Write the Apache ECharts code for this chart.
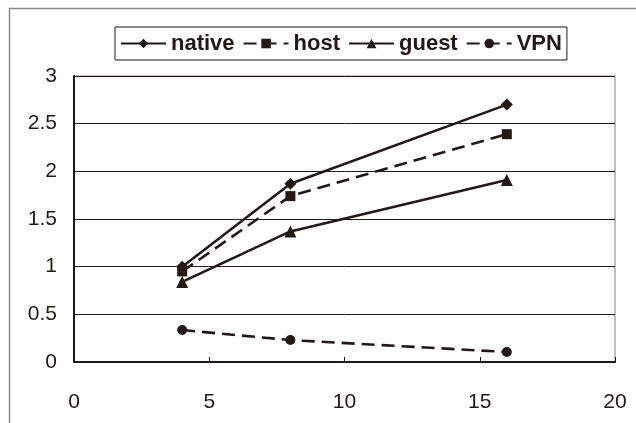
<!DOCTYPE html>
<html>
<head>
<meta charset="utf-8">
<script src="https://cdn.jsdelivr.net/npm/echarts@6/dist/echarts.min.js"></script>
<style>html,body{margin:0;padding:0;background:#fff;}#c{width:636px;height:423px;}</style>
</head>
<body>
<div id="c"></div>
<script>
var seriesNames = ['native', 'host', 'guest', 'VPN'];
var xValues = [4, 8, 16];
var nativeVals = [1.0, 1.87, 2.70];
var hostVals = [0.95, 1.74, 2.39];
var guestVals = [0.84, 1.37, 1.91];
var vpnVals = [0.335, 0.23, 0.105];
var xTicks = [0, 5, 10, 15, 20];
var yTicks = [0, 0.5, 1, 1.5, 2, 2.5, 3];

function pts(vals) { return xValues.map(function (x, i) { return [x, vals[i]]; }); }
var ink = '#231815';
var chart = echarts.init(document.getElementById('c'), null, {renderer: 'canvas'});
function mk(name, vals, symbol, size, dashed) {
  return {
    name: name, type: 'line', data: pts(vals), symbol: symbol, symbolSize: size,
    showAllSymbol: true,
    lineStyle: {color: ink, width: 2.6, type: dashed ? [13, 7] : 'solid'},
    itemStyle: {color: ink, borderWidth: 0},
    emphasis: {disabled: true}, animation: false, z: 5
  };
}
chart.setOption({
  animation: false,
  backgroundColor: '#fff',
  textStyle: {fontFamily: 'Liberation Sans, Arial, sans-serif'},
  graphic: [
    {type: 'line', shape: {x1: 9, y1: 8.5, x2: 636, y2: 8.5}, style: {stroke: '#8a8a8a', lineWidth: 1.5}, silent: true},
    {type: 'line', shape: {x1: 9.5, y1: 8, x2: 9.5, y2: 423}, style: {stroke: '#8a8a8a', lineWidth: 1.5}, silent: true}
  ],
  legend: {
    data: seriesNames,
    left: 115, top: 27,
    orient: 'horizontal',
    itemWidth: 45, itemHeight: 12, itemGap: 8,
    padding: [5, 5, 5, 5],
    borderColor: ink, borderWidth: 1,
    textStyle: {fontFamily: 'Liberation Sans, Arial, sans-serif', fontWeight: 'bold', fontSize: 22, color: ink, lineHeight: 23},
    selectedMode: false
  },
  grid: {left: 74, right: 21, top: 76, bottom: 61, show: true, borderColor: '#808080', borderWidth: 1, containLabel: false},
  xAxis: {
    type: 'value', min: 0, max: 20, interval: 5,
    axisLine: {show: true, onZero: false, lineStyle: {color: ink, width: 2}},
    axisTick: {show: true, inside: true, length: 5, lineStyle: {color: ink, width: 1}},
    splitLine: {show: false},
    axisLabel: {margin: 30, fontSize: 21, color: ink, fontFamily: 'Liberation Sans, Arial, sans-serif',
      formatter: function (v) { return xTicks.indexOf(v) >= 0 ? String(v) : ''; }}
  },
  yAxis: {
    type: 'value', min: 0, max: 3, interval: 0.5,
    axisLine: {show: true, onZero: false, lineStyle: {color: ink, width: 2}},
    axisTick: {show: false},
    splitLine: {show: true, lineStyle: {color: ink, width: 1}},
    axisLabel: {margin: 17, fontSize: 21, color: ink, fontFamily: 'Liberation Sans, Arial, sans-serif',
      formatter: function (v) { return yTicks.indexOf(v) >= 0 ? String(v) : ''; }}
  },
  series: [
    mk('native', nativeVals, 'diamond', 12, false),
    mk('host', hostVals, 'rect', 10, true),
    mk('guest', guestVals, 'triangle', 12, false),
    mk('VPN', vpnVals, 'circle', 10, true)
  ]
});
</script>
</body>
</html>
